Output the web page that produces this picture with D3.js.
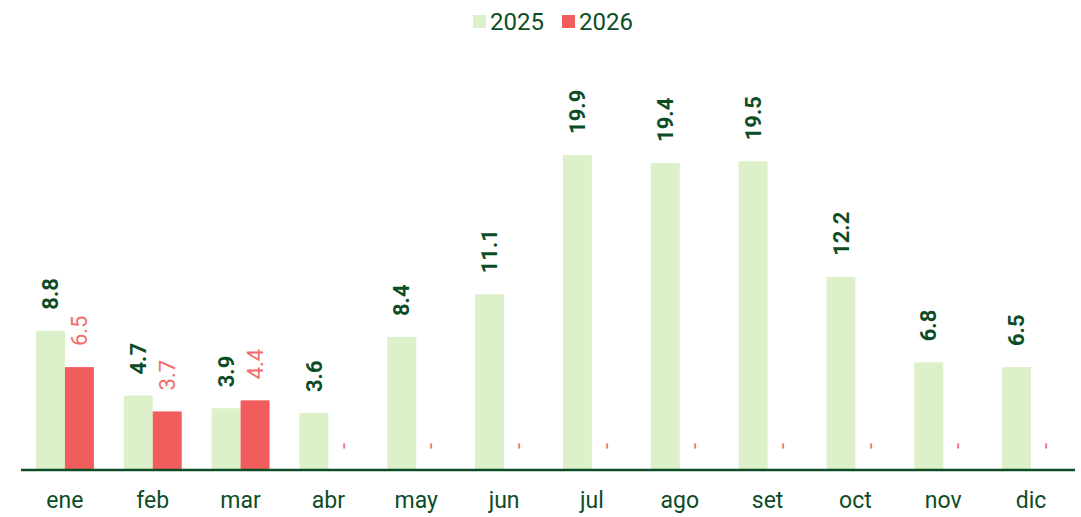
<!DOCTYPE html>
<html>
<head>
<meta charset="utf-8">
<script src="https://cdn.jsdelivr.net/npm/d3@7"></script>
<style>
  body { margin: 0; background: #fff; font-family: Roboto, sans-serif; }
</style>
</head>
<body>
<div id="chart"></div>
<script>
var months = ["ene", "feb", "mar", "abr", "may", "jun", "jul", "ago", "set", "oct", "nov", "dic"];
var series = ["2025", "2026"];
var values2025 = [8.8, 4.7, 3.9, 3.6, 8.4, 11.1, 19.9, 19.4, 19.5, 12.2, 6.8, 6.5];
var values2026 = [6.5, 3.7, 4.4, null, null, null, null, null, null, null, null, null];

var colors = { "2025": "#dcf1c9", "2026": "#f15c5c" };
var labelColors = { "2025": "#0d4d26", "2026": "#f26b6b" };
var textColor = "#0d4d26";

var width = 1081, height = 517;
var base = 470;

var svg = d3.select("#chart").append("svg")
    .attr("width", width)
    .attr("height", height);

var x = d3.scaleBand().domain(months).range([21, 1075]).paddingInner(0.34).paddingOuter(0.17);
var xs = d3.scaleBand().domain(series).range([0, x.bandwidth()]);
var y = d3.scaleLinear().domain([0, 22]).range([base, base - 22 * 15.83]);

var data = months.map(function(m, i) {
    return { month: m, vals: [
        { key: "2025", v: values2025[i] },
        { key: "2026", v: values2026[i] }
    ] };
});

var groups = svg.append("g").selectAll("g")
    .data(data)
    .enter().append("g")
    .attr("transform", function(d) { return "translate(" + x(d.month) + ",0)"; });

groups.selectAll("rect")
    .data(function(d) { return d.vals.filter(function(e) { return e.v != null; }); })
    .enter().append("rect")
    .attr("x", function(d) { return xs(d.key); })
    .attr("width", xs.bandwidth())
    .attr("y", function(d) { return y(d.v); })
    .attr("height", function(d) { return y(0) - y(d.v); })
    .attr("fill", function(d) { return colors[d.key]; });

groups.selectAll("text")
    .data(function(d) { return d.vals; })
    .enter().append("text")
    .attr("transform", function(d) {
        var cx = xs(d.key) + xs.bandwidth() / 2;
        var cy = y(d.v == null ? 0 : d.v) - 21;
        return "translate(" + cx + "," + cy + ") rotate(-90)";
    })
    .attr("dy", "0.35em")
    .attr("text-anchor", "start")
    .attr("font-size", 22)
    .attr("font-weight", function(d) { return d.key === "2025" ? "bold" : "normal"; })
    .attr("fill", function(d) { return labelColors[d.key]; })
    .text(function(d) { return d.v == null ? "-" : d.v.toFixed(1); });

// axis
var xAxis = svg.append("g")
    .attr("transform", "translate(0," + base + ")")
    .call(d3.axisBottom(x).tickSize(0).tickPadding(22));
xAxis.select(".domain").attr("stroke", textColor).attr("stroke-width", 2.5).attr("d", "M21,0H1075");
xAxis.selectAll("text")
    .attr("font-family", "Roboto, sans-serif")
    .attr("font-size", 23)
    .attr("fill", textColor);

// legend
var legend = svg.append("g");
var legendItems = [{ key: "2025", x: 473 }, { key: "2026", x: 562 }];
legendItems.forEach(function(it) {
    legend.append("rect")
        .attr("x", it.x).attr("y", 15)
        .attr("width", 13).attr("height", 13)
        .attr("fill", colors[it.key]);
    legend.append("text")
        .attr("x", it.x + 17).attr("y", 22)
        .attr("dy", "0.35em")
        .attr("font-size", 24)
        .attr("fill", textColor)
        .text(it.key);
});
</script>
</body>
</html>
